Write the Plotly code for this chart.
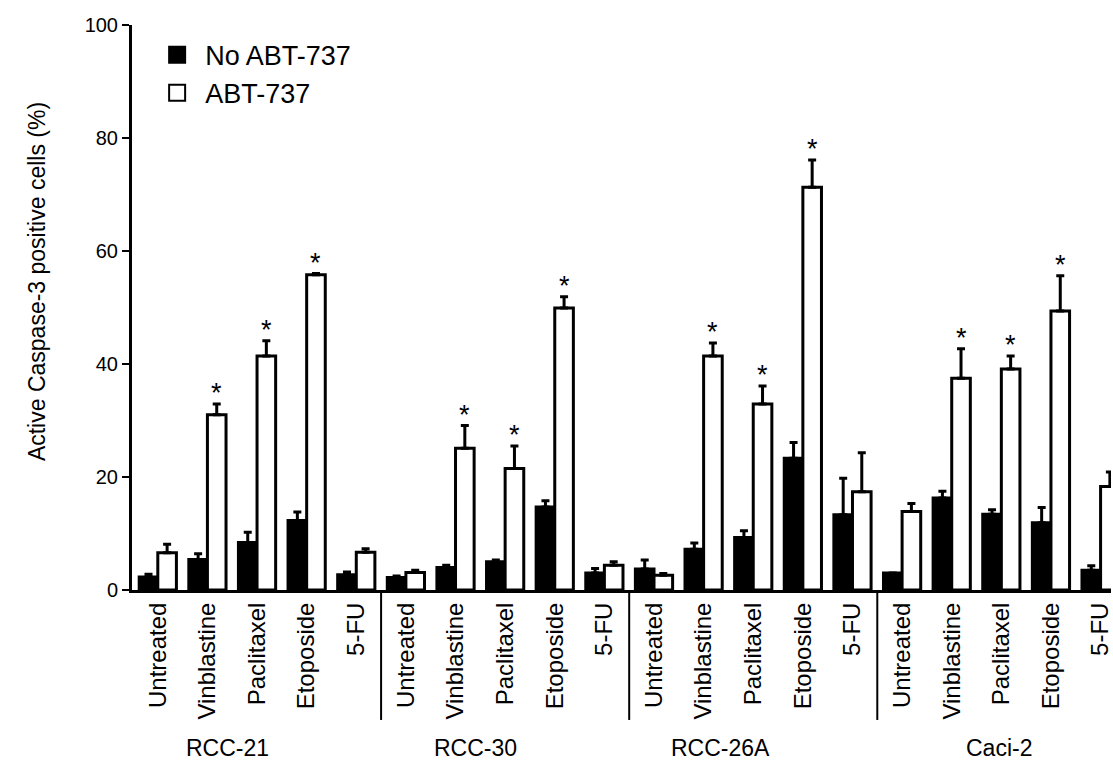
import plotly.graph_objects as go

treatments = ["Untreated", "Vinblastine", "Paclitaxel", "Etoposide", "5-FU"]
cell_lines = ["RCC-21", "RCC-30", "RCC-26A", "Caci-2"]
tick_labels = treatments * len(cell_lines)

no_abt = [2.3, 5.4, 8.4, 12.3, 2.7,
          2.2, 4.0, 5.0, 14.7, 3.0,
          3.7, 7.2, 9.3, 23.3, 13.3,
          3.0, 16.3, 13.4, 11.9, 3.5]
no_abt_err = [0.5, 1.0, 1.8, 1.5, 0.5,
              0.3, 0.4, 0.3, 1.1, 0.8,
              1.6, 1.1, 1.2, 2.8, 6.5,
              0.0, 1.2, 0.8, 2.7, 0.8]
abt = [6.6, 31.0, 41.4, 55.8, 6.7,
       3.1, 25.1, 21.5, 49.9, 4.4,
       2.6, 41.4, 32.9, 71.3, 17.4,
       13.9, 37.5, 39.1, 49.4, 18.3]
abt_err = [1.5, 1.9, 2.7, 0.2, 0.6,
           0.4, 4.0, 4.0, 2.0, 0.6,
           0.3, 2.3, 3.2, 4.8, 6.9,
           1.4, 5.2, 2.3, 6.2, 2.6]
significant = [False, True, True, True, False,
               False, True, True, True, False,
               False, True, True, True, False,
               False, True, True, True, False]

FONT = "Liberation Sans, Arial, Helvetica, sans-serif"
xs = list(range(len(tick_labels)))

fig = go.Figure()
fig.add_trace(go.Bar(
    x=xs, y=no_abt, name="No ABT-737", showlegend=False,
    marker=dict(color="black", line=dict(color="black", width=3)),
    error_y=dict(type="data", symmetric=False, array=no_abt_err,
                 arrayminus=[0] * len(no_abt), color="black", thickness=3, width=4),
))
fig.add_trace(go.Bar(
    x=xs, y=abt, name="ABT-737", showlegend=False,
    marker=dict(color="white", line=dict(color="black", width=3)),
    error_y=dict(type="data", symmetric=False, array=abt_err,
                 arrayminus=[0] * len(abt), color="black", thickness=3, width=4),
))
# legend entries (larger square symbols)
fig.add_trace(go.Scatter(x=[None], y=[None], mode="markers", name="No ABT-737",
                         marker=dict(symbol="square", size=16, color="black",
                                     line=dict(color="black", width=2))))
fig.add_trace(go.Scatter(x=[None], y=[None], mode="markers", name="ABT-737",
                         marker=dict(symbol="square", size=16, color="white",
                                     line=dict(color="black", width=2))))

bar_w = 0.375
annotations = []
for i, sig in enumerate(significant):
    if sig:
        annotations.append(dict(x=i + bar_w / 2, y=abt[i] + abt_err[i], xref="x", yref="y",
                                text="*", showarrow=False, yanchor="bottom", yshift=-6,
                                font=dict(family=FONT, size=27, color="black")))
label_pos = [1.4, 6.4, 11.35, 16.95]
for name, xp in zip(cell_lines, label_pos):
    annotations.append(dict(x=xp, y=-0.28, xref="x", yref="paper", text=name,
                            showarrow=False, yanchor="middle",
                            font=dict(family=FONT, size=23, color="black")))
annotations.append(dict(x=-0.097, y=0.545, xref="paper", yref="paper",
                        text="Active Caspase-3 positive cells (%)", textangle=-90,
                        showarrow=False, xanchor="center", yanchor="middle",
                        font=dict(family=FONT, size=23, color="black")))

shapes = []
for k in range(1, len(cell_lines)):
    xb = k * len(treatments) - 0.5
    shapes.append(dict(type="line", xref="x", yref="paper", x0=xb, x1=xb, y0=0, y1=-0.23,
                       line=dict(color="black", width=2)))

fig.update_layout(
    width=1113, height=778,
    margin=dict(l=132, r=0, t=25, b=188),
    paper_bgcolor="white", plot_bgcolor="white",
    barmode="group", bargap=0.25, bargroupgap=0,
    font=dict(family=FONT, color="black"),
    showlegend=True,
    legend=dict(x=0.0175, y=0.99, xanchor="left", yanchor="top", itemwidth=46,
                font=dict(family=FONT, size=27, color="black"),
                bgcolor="rgba(0,0,0,0)", tracegroupgap=0),
    annotations=annotations, shapes=shapes,
)
fig.update_xaxes(range=[-0.52, 19.21], tickmode="array", tickvals=xs, ticktext=tick_labels,
                 tickangle=-90, ticks="", showline=True, linecolor="black", linewidth=3,
                 showgrid=False, zeroline=False, ticklabeloverflow="allow",
                 tickfont=dict(family=FONT, size=24, color="black"))
fig.update_yaxes(range=[0, 100], tickvals=[0, 20, 40, 60, 80, 100], ticks="outside",
                 ticklen=7, tickwidth=2, tickcolor="black", showline=True, linecolor="black",
                 linewidth=3, showgrid=False, zeroline=False,
                 tickfont=dict(family=FONT, size=20, color="black"))

fig.write_html("out.html", config={"displayModeBar": False},
               post_script="document.body.style.margin='0px';document.body.style.overflow='hidden';")
